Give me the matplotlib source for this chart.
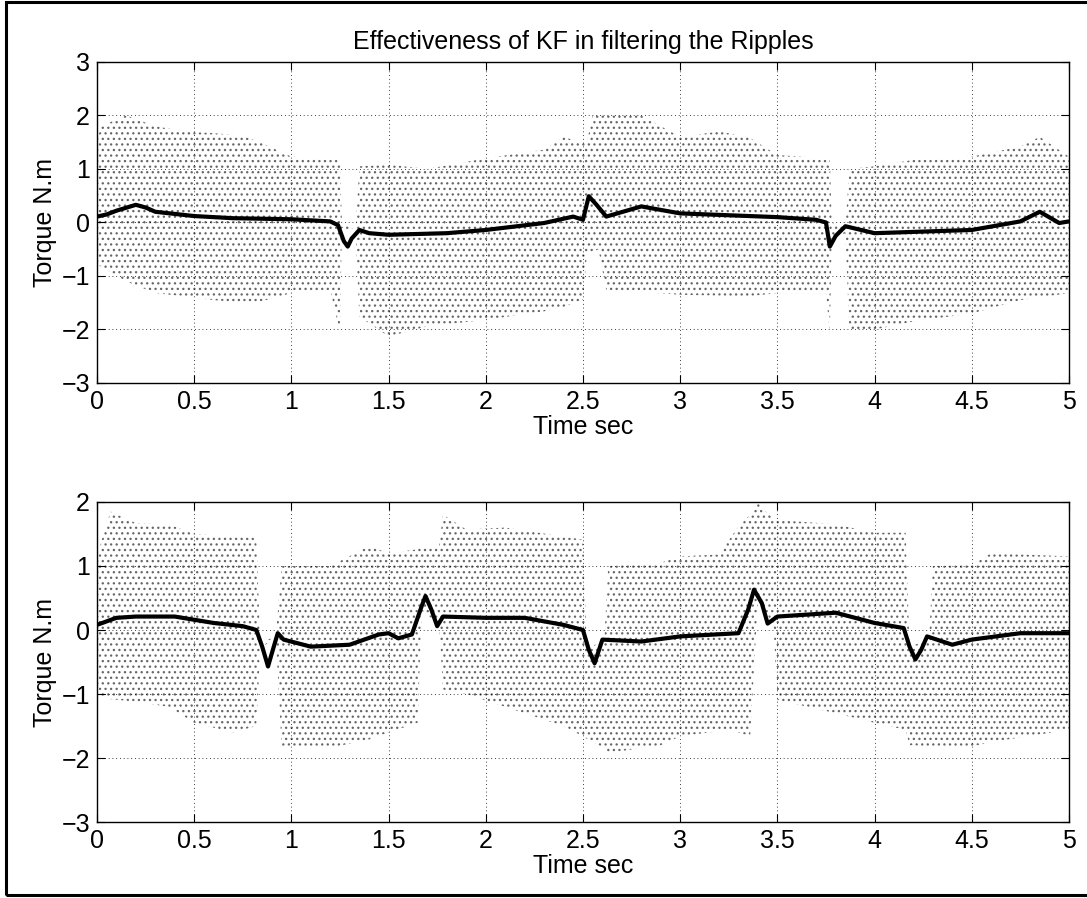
import matplotlib
matplotlib.use("Agg")
import matplotlib.pyplot as plt
from matplotlib.patches import Rectangle

plt.rcParams['font.family'] = ['Liberation Sans', 'DejaVu Sans']

# ---- top plot: ripple band (raw torque) and KF output ----
t_env_top = [0.00, 0.02, 0.15, 0.30, 0.45, 0.60, 0.75, 0.85, 1.00, 1.20,
             1.25, 1.26, 1.33, 1.35, 1.50, 1.70, 2.00, 2.30, 2.40, 2.50,
             2.52, 2.55, 2.58, 2.62, 2.80, 3.00, 3.20, 3.35, 3.50, 3.75,
             3.77, 3.78, 3.85, 3.87, 4.00, 4.20, 4.50, 4.75, 4.85, 5.00]
hi_top = [1.5, 1.8, 2.0, 1.8, 1.7, 1.67, 1.62, 1.48, 1.23, 1.2,
          1.17, 0.0, -0.15, 1.05, 1.08, 1.0, 1.2, 1.36, 1.6, 1.48,
          1.5, 2.0, 2.0, 2.0, 2.0, 1.6, 1.7, 1.6, 1.26, 1.2,
          1.2, 0.0, -0.1, 1.0, 1.05, 1.17, 1.23, 1.42, 1.6, 1.23]
lo_top = [-0.8, -0.82, -1.1, -1.32, -1.38, -1.45, -1.5, -1.47, -1.32, -1.26,
          -2.05, -0.1, -0.2, -1.76, -2.13, -1.94, -1.82, -1.66, -1.58, -1.44,
          -0.6, -0.55, -0.5, -1.27, -1.3, -1.35, -1.37, -1.38, -1.32, -1.32,
          -2.05, -0.3, -0.2, -2.0, -2.0, -1.85, -1.7, -1.45, -1.4, -1.32]

t_kf_top = [0, 0.05, 0.1, 0.2, 0.25, 0.3, 0.5, 0.7, 1.0, 1.2,
            1.24, 1.27, 1.29, 1.31, 1.35, 1.4, 1.5, 1.8, 2.0, 2.3,
            2.45, 2.5, 2.53, 2.57, 2.62, 2.8, 3.0, 3.5, 3.7, 3.75,
            3.77, 3.8, 3.85, 4.0, 4.5, 4.75, 4.85, 4.95, 5.0]
kf_top = [0.11, 0.15, 0.22, 0.33, 0.28, 0.2, 0.12, 0.08, 0.06, 0.02,
          -0.05, -0.35, -0.45, -0.3, -0.14, -0.2, -0.23, -0.2, -0.14, -0.01,
          0.11, 0.05, 0.49, 0.33, 0.11, 0.3, 0.17, 0.1, 0.05, 0.0,
          -0.45, -0.25, -0.07, -0.2, -0.14, 0.02, 0.2, -0.01, 0.02]

# ---- bottom plot ----
t_env_bot = [0.00, 0.02, 0.07, 0.20, 0.37, 0.50, 0.70, 0.82, 0.84, 0.92,
             0.95, 1.20, 1.40, 1.50, 1.65, 1.67, 1.76, 1.78, 1.90, 2.10,
             2.40, 2.50, 2.52, 2.61, 2.63, 2.90, 3.00, 3.20, 3.30, 3.36,
             3.40, 3.42, 3.48, 3.50, 3.80, 4.00, 4.16, 4.18, 4.28, 4.30,
             4.50, 4.60, 5.00]
hi_bot = [1.0, 1.36, 1.85, 1.67, 1.65, 1.5, 1.46, 1.44, -0.2, -0.1,
          1.0, 1.0, 1.31, 1.2, 1.26, 1.3, 1.3, 1.8, 1.57, 1.6,
          1.46, 1.41, -0.3, -0.15, 1.0, 1.05, 1.15, 1.18, 1.62, 1.8,
          2.0, 1.9, 1.75, 1.72, 1.65, 1.52, 1.52, -0.26, -0.15, 1.0,
          1.02, 1.2, 1.15]
lo_bot = [-0.8, -1.04, -1.08, -1.12, -1.2, -1.45, -1.6, -1.5, -0.3, -0.1,
          -1.82, -1.84, -1.71, -1.6, -1.45, 0.3, 0.1, -0.93, -1.0, -1.2,
          -1.5, -1.66, -1.7, -1.85, -1.92, -1.8, -1.66, -1.58, -1.6, -1.66,
          0.45, 0.35, 0.1, -1.09, -1.3, -1.45, -1.56, -1.8, -1.82, -1.82,
          -1.82, -1.75, -1.56]

t_kf_bot = [0, 0.1, 0.2, 0.4, 0.6, 0.75, 0.82, 0.85, 0.88, 0.9,
            0.93, 0.96, 1.1, 1.3, 1.45, 1.5, 1.55, 1.62, 1.67, 1.69,
            1.72, 1.75, 1.78, 2.0, 2.2, 2.4, 2.5, 2.53, 2.56, 2.6,
            2.8, 3.0, 3.3, 3.35, 3.38, 3.42, 3.45, 3.5, 3.8, 4.0,
            4.15, 4.18, 4.21, 4.24, 4.27, 4.4, 4.5, 4.75, 5.0]
kf_bot = [0.08, 0.19, 0.21, 0.21, 0.11, 0.06, 0.0, -0.26, -0.57, -0.36,
          -0.05, -0.15, -0.26, -0.23, -0.07, -0.05, -0.13, -0.07, 0.37, 0.53,
          0.32, 0.06, 0.21, 0.19, 0.19, 0.08, 0.0, -0.31, -0.52, -0.15,
          -0.18, -0.1, -0.05, 0.32, 0.63, 0.42, 0.1, 0.21, 0.27, 0.11,
          0.03, -0.26, -0.46, -0.31, -0.1, -0.23, -0.15, -0.05, -0.05]

xticks = [0, 0.5, 1, 1.5, 2, 2.5, 3, 3.5, 4, 4.5, 5]
xticklabels = ['0', '0.5', '1', '1.5', '2', '2.5', '3', '3.5', '4', '4.5', '5']
yticks_top = [-3, -2, -1, 0, 1, 2, 3]
yticks_bot = [-3, -2, -1, 0, 1, 2]

fs = 18
plt.rcParams['hatch.linewidth'] = 0.9

fig = plt.figure(figsize=(10.87, 8.98), dpi=100)
ax1 = fig.add_axes([0.0892, 0.5735, 0.8942, 0.3575])
ax2 = fig.add_axes([0.0892, 0.0846, 0.8942, 0.3564])

panels = [
    (ax1, t_env_top, hi_top, lo_top, t_kf_top, kf_top, yticks_top),
    (ax2, t_env_bot, hi_bot, lo_bot, t_kf_bot, kf_bot, yticks_bot),
]
for ax, te, hi, lo, tk, kf, yt in panels:
    # raw signal: dense dotted ripple
    ax.fill_between(te, lo, hi, facecolor='none', edgecolor='0.4',
                    hatch='...', linewidth=0)
    # Kalman filter output
    ax.plot(tk, kf, color='k', lw=3.0)
    ax.set_xlim(0, 5)
    ax.set_ylim(yt[0], yt[-1])
    ax.set_xticks(xticks)
    ax.set_xticklabels(xticklabels)
    ax.set_yticks(yt)
    ax.grid(True, color='k', linestyle=(0, (1, 3.5)), linewidth=0.6)
    ax.tick_params(direction='in', length=6, width=0.8, top=True, right=True,
                   labelsize=fs, pad=5)
    for sp in ax.spines.values():
        sp.set_linewidth(1.0)
    ax.set_xlabel('Time sec', fontsize=fs, labelpad=1)
    ax.set_ylabel('Torque N.m', fontsize=fs, labelpad=3)

ax1.set_title('Effectiveness of KF in filtering the Ripples', fontsize=fs, pad=9)

# outer frame like the MATLAB print
fig.patches.append(Rectangle((6 / 1087, 1 - 895 / 898), 1.2, 893 / 898,
                             transform=fig.transFigure, fill=False,
                             edgecolor='k', linewidth=2.2, zorder=0))

fig.savefig('out.png', dpi=100)
